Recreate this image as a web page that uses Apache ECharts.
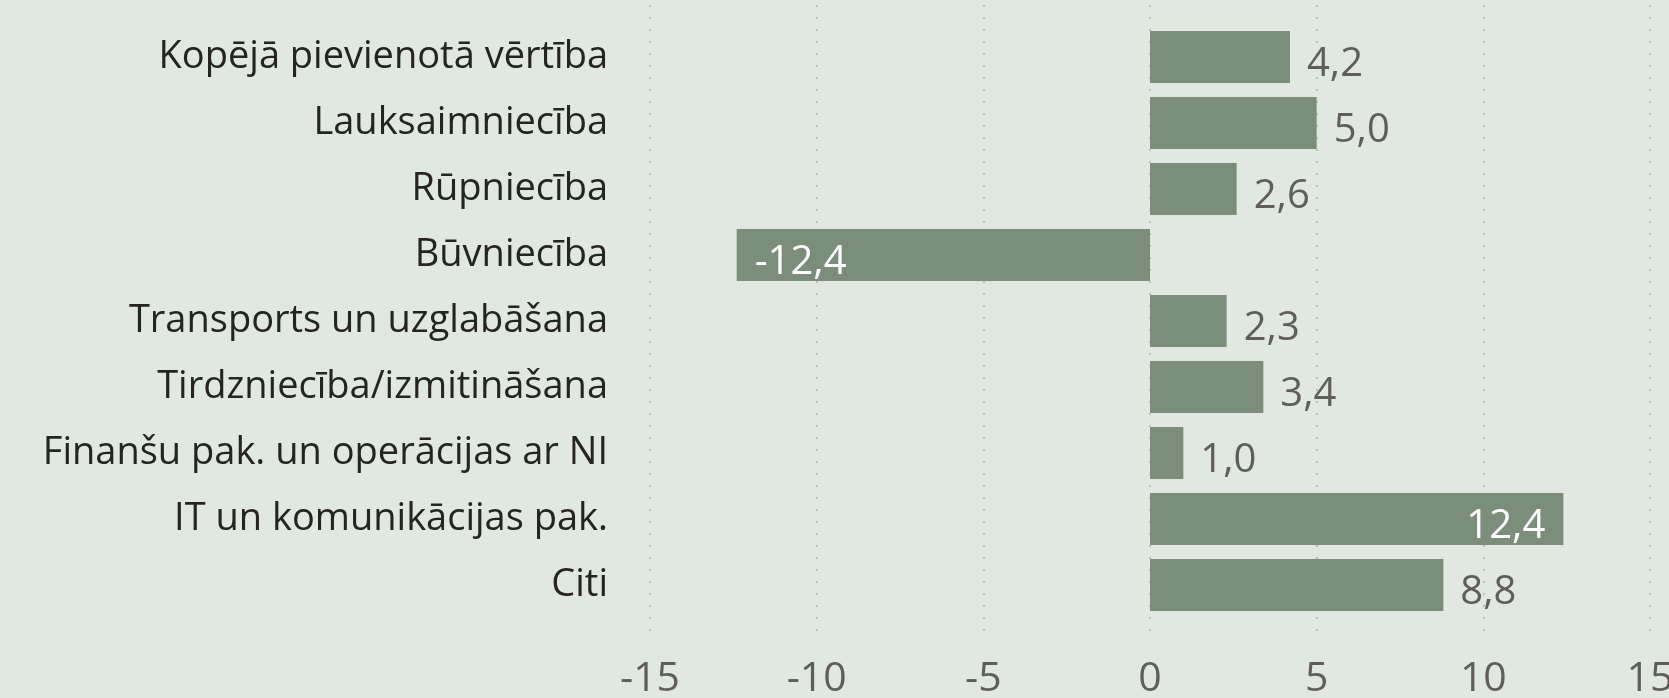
<!DOCTYPE html>
<html>
<head>
<meta charset="utf-8">
<script src="https://cdn.jsdelivr.net/npm/echarts@6/dist/echarts.min.js"></script>
<style>
  html, body { margin: 0; padding: 0; background: #e1e8e1; }
  #chart { width: 1669px; height: 698px; }
</style>
</head>
<body>
<div id="chart"></div>
<script>
// nozares un pieauguma tempi (%)
const categories = [
  'Kopējā pievienotā vērtība',
  'Lauksaimniecība',
  'Rūpniecība',
  'Būvniecība',
  'Transports un uzglabāšana',
  'Tirdzniecība/izmitināšana',
  'Finanšu pak. un operācijas ar NI',
  'IT un komunikācijas pak.',
  'Citi'
]
const values = [4.2, 5.0, 2.6, -12.4, 2.3, 3.4, 1.0, 12.4, 8.8]
const xTicks = [-15, -10, -5, 0, 5, 10, 15]

const FONT = "'Segoe UI', 'Open Sans', sans-serif"
const GRAY = '#605e5c'
const BAR = '#7a8e7a'

// garās joslas -> etiķete joslas iekšpusē
function labelFor(v) {
  if (Math.abs(v) >= 12) {
    return { position: v < 0 ? 'insideLeft' : 'insideRight', color: '#fff', distance: 18 }
  }
  return { position: 'right', color: GRAY, distance: 17 }
}

const chart = echarts.init(document.getElementById('chart'), null, { renderer: 'canvas' })

chart.setOption({
  backgroundColor: '#e1e8e1',
  animation: false,
  grid: [
    { left: 650, right: 19, top: 24, bottom: 80, outerBoundsMode: 'none' },
    { left: 650, right: 19, top: 5, bottom: 60, outerBoundsMode: 'none' }
  ],
  xAxis: [{
    gridIndex: 0,
    type: 'value',
    min: xTicks[0], max: xTicks[xTicks.length - 1], interval: 5,
    axisLine: { show: false },
    axisTick: { show: false },
    splitLine: { show: false },
    axisLabel: { color: GRAY, fontFamily: FONT, fontSize: 41, margin: 41 }
  }, {
    gridIndex: 1,
    type: 'value',
    min: xTicks[0], max: xTicks[xTicks.length - 1], interval: 5,
    axisLine: { show: false },
    axisTick: { show: false },
    axisLabel: { show: false },
    splitLine: { show: true, lineStyle: { color: '#bcc2bc', width: 2, type: [2, 10] } }
  }],
  yAxis: [{
    gridIndex: 0,
    type: 'category',
    data: categories,
    inverse: true,
    axisLine: { show: false },
    axisTick: { show: false },
    axisLabel: { color: '#252423', fontFamily: FONT, fontSize: 38, margin: 42, padding: [6, 0, 0, 0] }
  }, {
    gridIndex: 1,
    type: 'value',
    show: false
  }],
  series: [{
    type: 'bar',
    xAxisIndex: 0,
    yAxisIndex: 0,
    barWidth: '79%',
    itemStyle: { color: BAR },
    label: {
      show: true,
      fontFamily: FONT,
      fontSize: 40,
      offset: [0, 8],
      formatter: p => p.value.toFixed(1).replace('.', ',')
    },
    data: values.map(v => ({ value: v, label: labelFor(v) }))
  }]
})

window.addEventListener('resize', () => chart.resize())
</script>
</body>
</html>
